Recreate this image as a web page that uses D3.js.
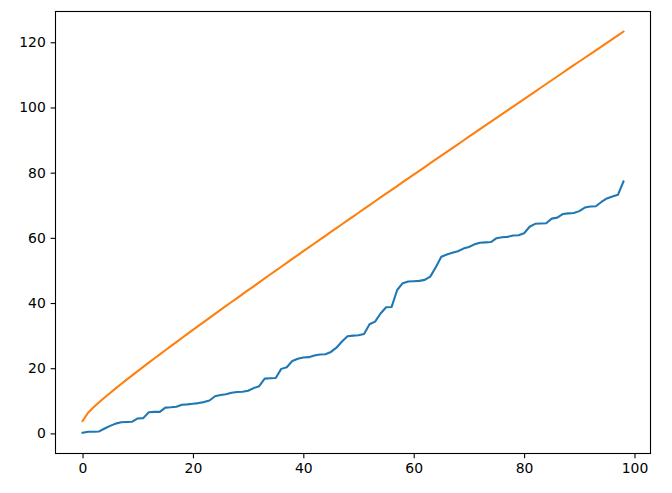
<!DOCTYPE html>
<html>
<head>
<meta charset="utf-8">
<script src="https://cdn.jsdelivr.net/npm/d3@7"></script>
<style>
  html, body { margin: 0; padding: 0; background: #fff; }
  svg { display: block; }
  .tick text { font-family: "DejaVu Sans", sans-serif; font-size: 13.9px; fill: #000; }
</style>
</head>
<body>
<svg id="chart" width="672" height="493"></svg>
<script>
const blueValues = [0.2,0.5,0.5,0.6,1.5,2.3,3.0,3.4,3.5,3.6,
  4.6,4.7,6.5,6.6,6.6,7.9,8.0,8.2,8.8,8.9,
  9.1,9.3,9.6,10.1,11.4,11.8,12.0,12.5,12.7,12.8,
  13.1,13.9,14.5,16.8,16.9,17.0,19.8,20.3,22.2,22.9,
  23.3,23.4,23.9,24.2,24.3,25.0,26.3,28.2,29.8,30.0,
  30.1,30.5,33.5,34.3,36.8,38.7,38.8,44.0,46.1,46.6,
  46.7,46.8,47.1,48.1,51.0,54.2,54.9,55.4,55.9,56.7,
  57.2,58.0,58.5,58.6,58.7,59.9,60.2,60.3,60.7,60.8,
  61.4,63.4,64.3,64.4,64.5,65.9,66.2,67.3,67.5,67.6,
  68.2,69.3,69.6,69.7,71.0,72.1,72.7,73.2,77.3];

const orangeValues = [3.8,6.33,8.0,9.54,11.0,12.42,13.8,15.16,16.5,17.82,
  19.13,20.42,21.71,22.99,24.26,25.52,26.78,28.03,29.28,30.52,
  31.76,32.99,34.21,35.45,36.67,37.89,39.1,40.31,41.53,42.74,
  43.94,45.14,46.34,47.55,48.75,49.94,51.13,52.32,53.52,54.71,
  55.9,57.08,58.26,59.45,60.63,61.81,62.99,64.17,65.35,66.53,
  67.7,68.87,70.05,71.23,72.4,73.57,74.73,75.9,77.08,78.24,
  79.41,80.57,81.73,82.9,84.07,85.23,86.39,87.55,88.71,89.87,
  91.03,92.19,93.34,94.51,95.66,96.82,97.97,99.13,100.29,101.44,
  102.59,103.74,104.89,106.05,107.2,108.35,109.5,110.65,111.81,112.96,
  114.1,115.25,116.4,117.55,118.7,119.84,120.99,122.13,123.28];

const xTicks = [0, 20, 40, 60, 80, 100];
const yTicks = [0, 20, 40, 60, 80, 100, 120];

const svg = d3.select("#chart");
const axLeft = 55.5, axRight = 650.5, axTop = 11.5, axBottom = 453.5;

const n = blueValues.length;
const xMin = 0, xMax = n - 1;
const xPad = (xMax - xMin) * 0.05;
const x = d3.scaleLinear().domain([xMin - xPad, xMax + xPad]).range([axLeft, axRight]);

const allY = blueValues.concat(orangeValues);
const yMinD = Math.min(0, d3.min(allY)), yMaxD = d3.max(allY);
const yPad = (yMaxD - yMinD) * 0.05;
const y = d3.scaleLinear().domain([yMinD - yPad, yMaxD + yPad]).range([axBottom, axTop]);

const line = d3.line().x((d, i) => x(i)).y(d => y(d));

svg.append("clipPath").attr("id", "clip")
  .append("rect").attr("x", axLeft).attr("y", axTop).attr("width", axRight - axLeft).attr("height", axBottom - axTop);

const plot = svg.append("g").attr("clip-path", "url(#clip)");
plot.append("path").datum(blueValues).attr("d", line)
  .attr("fill", "none").attr("stroke", "#1f77b4").attr("stroke-width", 2.08)
  .attr("stroke-linejoin", "round").attr("stroke-linecap", "square");
plot.append("path").datum(orangeValues).attr("d", line)
  .attr("fill", "none").attr("stroke", "#ff7f0e").attr("stroke-width", 2.08)
  .attr("stroke-linejoin", "round").attr("stroke-linecap", "square");

const xAxis = svg.append("g").attr("transform", `translate(0,${axBottom})`)
  .call(d3.axisBottom(x).tickValues(xTicks).tickFormat(d3.format("d")).tickSize(4.86).tickPadding(4.86).tickSizeOuter(0));
const yAxis = svg.append("g").attr("transform", `translate(${axLeft},0)`)
  .call(d3.axisLeft(y).tickValues(yTicks).tickFormat(d3.format("d")).tickSize(4.86).tickPadding(4.86).tickSizeOuter(0));
[xAxis, yAxis].forEach(a => {
  a.select(".domain").remove();
  a.selectAll(".tick line").attr("stroke", "#000").attr("stroke-width", 1.1);
});

svg.append("rect").attr("x", axLeft).attr("y", axTop).attr("width", axRight - axLeft).attr("height", axBottom - axTop)
  .attr("fill", "none").attr("stroke", "#000").attr("stroke-width", 1.1);
</script>
</body>
</html>
